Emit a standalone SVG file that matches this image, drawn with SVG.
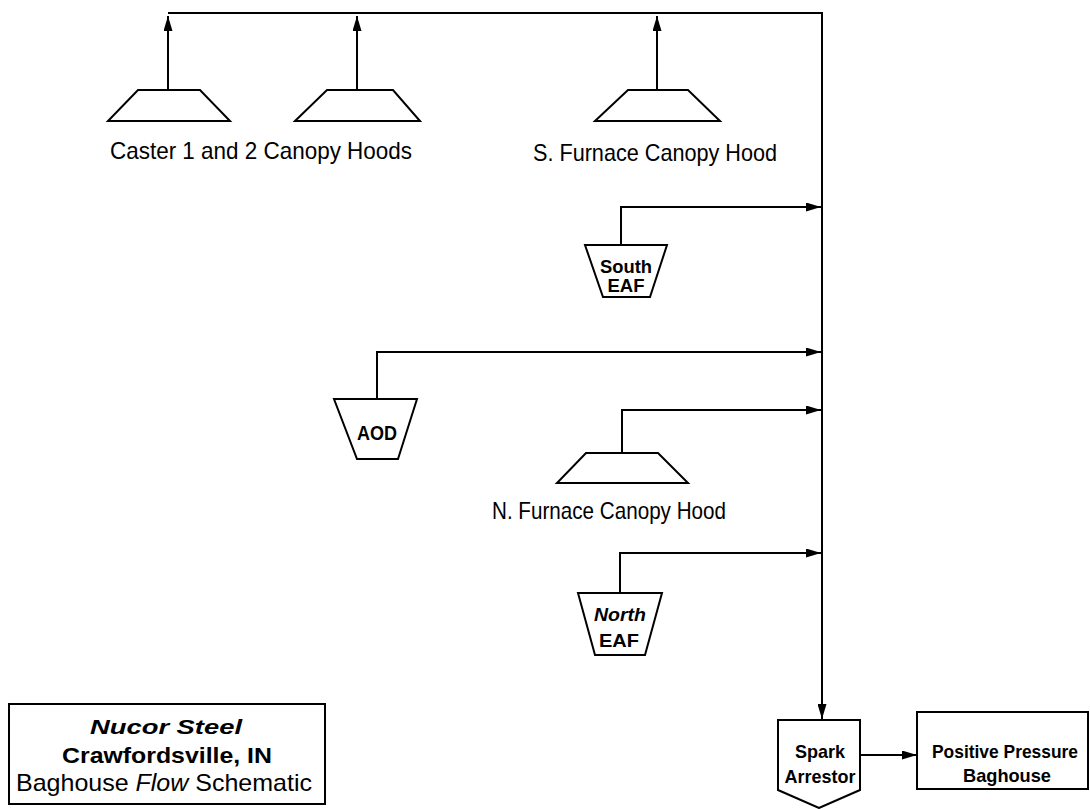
<svg xmlns="http://www.w3.org/2000/svg" width="1090" height="809" viewBox="0 0 1090 809">
<style>
  .shape{fill:#fff;stroke:#000;stroke-width:2;stroke-linejoin:miter}
  .conn{fill:none;stroke:#000;stroke-width:2}
  .lbl{font-family:"Liberation Sans",Arial,sans-serif;font-size:24px;fill:#000}
  .in{font-family:"Liberation Sans",Arial,sans-serif;font-size:19px;font-weight:bold;fill:#000;text-anchor:middle}
</style>
<defs>
  <marker id="ah" viewBox="0 0 15 9" refX="15" refY="4.5" markerWidth="15" markerHeight="9" markerUnits="userSpaceOnUse" orient="auto">
    <path d="M0,0 L15,4.5 L0,9 Z" fill="#000"/>
  </marker>
</defs>
<rect width="1090" height="809" fill="#fff"/>

<g id="connectors">
  <path class="conn" d="M168,13 H822 V719" marker-end="url(#ah)"/>
  <path class="conn" d="M168,90 V16" marker-end="url(#ah)"/>
  <path class="conn" d="M357,90 V16" marker-end="url(#ah)"/>
  <path class="conn" d="M657,90 V16" marker-end="url(#ah)"/>
  <path class="conn" d="M621,245 V207 H821" marker-end="url(#ah)"/>
  <path class="conn" d="M377,399 V352 H821" marker-end="url(#ah)"/>
  <path class="conn" d="M622,453 V410 H821" marker-end="url(#ah)"/>
  <path class="conn" d="M620,593 V553 H821" marker-end="url(#ah)"/>
  <path class="conn" d="M860,755 H917" marker-end="url(#ah)"/>
</g>

<g id="caster-hood-1">
  <path class="shape" d="M138,90 H200 L230,121 H108 Z"/>
</g>
<g id="caster-hood-2">
  <path class="shape" d="M327,90 H393 L420,121 H295 Z"/>
</g>
<g id="caster-label">
  <text class="lbl" x="110" y="159" textLength="302" lengthAdjust="spacingAndGlyphs">Caster 1 and 2 Canopy Hoods</text>
</g>
<g id="s-furnace-hood">
  <path class="shape" d="M628,90 H688 L720,121 H595 Z"/>
  <text class="lbl" x="533" y="161" textLength="244" lengthAdjust="spacingAndGlyphs">S. Furnace Canopy Hood</text>
</g>
<g id="south-eaf">
  <path class="shape" d="M585,245 H667 L650,297 H603 Z"/>
  <text class="in" x="626" y="273" textLength="52" lengthAdjust="spacingAndGlyphs">South</text>
  <text class="in" x="626" y="292" textLength="37" lengthAdjust="spacingAndGlyphs">EAF</text>
</g>
<g id="aod">
  <path class="shape" d="M334,399 H417 L398,459 H357 Z"/>
  <text class="in" x="377" y="440" textLength="40" lengthAdjust="spacingAndGlyphs" style="font-size:20px">AOD</text>
</g>
<g id="n-furnace-hood">
  <path class="shape" d="M586,453 H658 L688,483 H557 Z"/>
  <text class="lbl" x="492" y="519" textLength="234" lengthAdjust="spacingAndGlyphs">N. Furnace Canopy Hood</text>
</g>
<g id="north-eaf">
  <path class="shape" d="M578,593 H662 L645,655 H595 Z"/>
  <text class="in" x="620" y="621" textLength="52" lengthAdjust="spacingAndGlyphs" style="font-style:italic">North</text>
  <text class="in" x="619" y="647" textLength="40" lengthAdjust="spacingAndGlyphs">EAF</text>
</g>
<g id="spark-arrestor">
  <path class="shape" d="M778,720 H860 V790 L819,808 L778,790 Z"/>
  <text class="in" x="820" y="758" textLength="50" lengthAdjust="spacingAndGlyphs">Spark</text>
  <text class="in" x="820" y="783" textLength="71" lengthAdjust="spacingAndGlyphs">Arrestor</text>
</g>
<g id="baghouse">
  <rect class="shape" x="917" y="712" width="171" height="77"/>
  <text class="in" x="1005" y="758" textLength="146" lengthAdjust="spacingAndGlyphs">Positive Pressure</text>
  <text class="in" x="1007" y="782" textLength="88" lengthAdjust="spacingAndGlyphs">Baghouse</text>
</g>
<g id="title-box">
  <rect class="shape" x="9" y="704" width="316" height="100"/>
  <text x="166" y="734" text-anchor="middle" textLength="152" lengthAdjust="spacingAndGlyphs" style="font-family:'Liberation Sans',Arial,sans-serif;font-size:21px;font-weight:bold;font-style:italic">Nucor Steel</text>
  <text x="167" y="763" text-anchor="middle" textLength="210" lengthAdjust="spacingAndGlyphs" style="font-family:'Liberation Sans',Arial,sans-serif;font-size:22px;font-weight:bold">Crawfordsville, IN</text>
  <text x="164" y="791" text-anchor="middle" textLength="296" lengthAdjust="spacingAndGlyphs" style="font-family:'Liberation Sans',Arial,sans-serif;font-size:24px">Baghouse <tspan style="font-style:italic">Flow</tspan> Schematic</text>
</g>
</svg>
